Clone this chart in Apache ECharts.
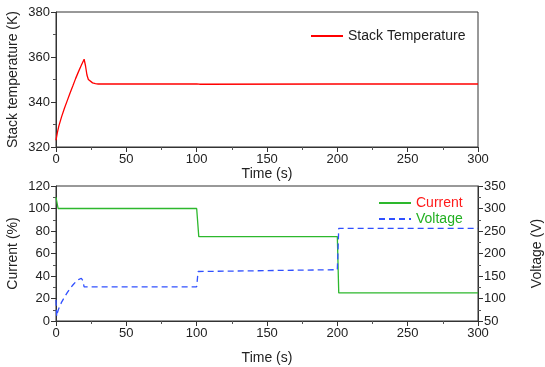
<!DOCTYPE html>
<html>
<head>
<meta charset="utf-8">
<script src="https://cdn.jsdelivr.net/npm/echarts@6/dist/echarts.min.js"></script>
<style>
  html, body { margin: 0; padding: 0; background: #fff; }
  #chart { width: 545px; height: 367px; }
</style>
</head>
<body>
<div id="chart"></div>
<script>
// top panel: stack temperature (K) vs time (s)
var tempTime = [0, 1, 2, 4, 6, 8, 10, 12, 14, 16, 18, 20, 21, 22, 23, 24, 26, 28, 30, 100, 101, 102, 103, 200, 201, 202, 300];
var tempValues = [323, 326.5, 329.3, 333.5, 337.2, 340.6, 344, 347.2, 350.5, 353.5, 356.3, 359, 356, 352, 350, 349.2, 348.5, 348.2, 348, 348, 347.8, 347.9, 348, 348, 347.9, 348, 348];

// bottom panel: current (%) on left axis, voltage (V) on right axis
var currentTime = [0, 1.5, 100, 101.5, 200, 201, 300];
var currentValues = [110, 100, 100, 75, 75, 25, 25];

var voltageTime = [0, 0.5, 1, 2, 4, 6, 8, 10, 12, 14, 16, 17, 18, 19, 20, 100, 101, 102, 200, 201, 300];
var voltageValues = [97, 60, 68, 78, 92, 103, 113, 122, 130, 137, 142, 144, 145, 140, 126, 126, 160, 164, 164, 256, 256];

function pairs(xs, ys) {
  return xs.map(function (x, i) { return [x, ys[i]]; });
}

var textColor = '#222';
var fontFamily = '"Liberation Sans", Arial, sans-serif';

function axisCommon(extra) {
  return Object.assign({
    axisLine: { show: true, lineStyle: { color: '#333', width: 1 } },
    axisTick: { show: true, length: 5, lineStyle: { color: '#333' } },
    minorTick: { show: true, splitNumber: 2, length: 3, lineStyle: { color: '#555' } },
    splitLine: { show: false },
    axisLabel: { color: textColor, fontSize: 13, fontFamily: fontFamily, margin: 6 },
    nameTextStyle: { color: textColor, fontSize: 14, fontFamily: fontFamily },
    nameLocation: 'middle',
    nameMoveOverlap: false
  }, extra);
}

var chart = echarts.init(document.getElementById('chart'));

var option = {
  animation: false,
  backgroundColor: '#fff',
  grid: [
    { left: 56, right: 67, top: 12, height: 135, show: true, borderColor: '#333', borderWidth: 1, outerBoundsMode: 'none' },
    { left: 56, right: 67, top: 186, height: 135, show: true, borderColor: '#333', borderWidth: 1, outerBoundsMode: 'none' }
  ],
  legend: [
    {
      data: ['Stack Temperature'],
      left: 305, top: 24,
      itemWidth: 32, itemHeight: 14,
      itemStyle: { opacity: 0 },
      textStyle: { color: textColor, fontSize: 14, fontFamily: fontFamily }
    },
    {
      orient: 'vertical',
      left: 373, top: 191,
      itemWidth: 32, itemHeight: 14, itemGap: 2,
      itemStyle: { opacity: 0 },
      data: [
        { name: 'Current', textStyle: { color: '#ff1a1a' } },
        { name: 'Voltage', textStyle: { color: '#22b022' } }
      ],
      textStyle: { fontSize: 14, fontFamily: fontFamily }
    }
  ],
  xAxis: [
    axisCommon({ type: 'value', gridIndex: 0, min: 0, max: 300, interval: 50, name: 'Time (s)', nameGap: 20 }),
    axisCommon({ type: 'value', gridIndex: 1, min: 0, max: 300, interval: 50, name: 'Time (s)', nameGap: 30 })
  ],
  yAxis: [
    axisCommon({ type: 'value', gridIndex: 0, min: 320, max: 380, interval: 20, name: 'Stack temperature (K)', nameGap: 36, nameRotate: 90 }),
    axisCommon({ type: 'value', gridIndex: 1, min: 0, max: 120, interval: 20, name: 'Current (%)', nameGap: 36, nameRotate: 90 }),
    axisCommon({ type: 'value', gridIndex: 1, position: 'right', min: 50, max: 350, interval: 50, name: 'Voltage (V)', nameGap: 52, nameRotate: 90 })
  ],
  series: [
    {
      name: 'Stack Temperature', type: 'line', xAxisIndex: 0, yAxisIndex: 0,
      data: pairs(tempTime, tempValues), symbol: 'none',
      lineStyle: { color: '#ff0000', width: 1.3 }, itemStyle: { color: '#ff0000' }
    },
    {
      name: 'Current', type: 'line', xAxisIndex: 1, yAxisIndex: 1,
      data: pairs(currentTime, currentValues), symbol: 'none',
      lineStyle: { color: '#2db82d', width: 1.3 }, itemStyle: { color: '#2db82d' }
    },
    {
      name: 'Voltage', type: 'line', xAxisIndex: 1, yAxisIndex: 2,
      data: pairs(voltageTime, voltageValues), symbol: 'none',
      lineStyle: { color: '#3050ff', width: 1.3, type: [6, 4] }, itemStyle: { color: '#3050ff' }
    }
  ]
};

chart.setOption(option);
</script>
</body>
</html>
